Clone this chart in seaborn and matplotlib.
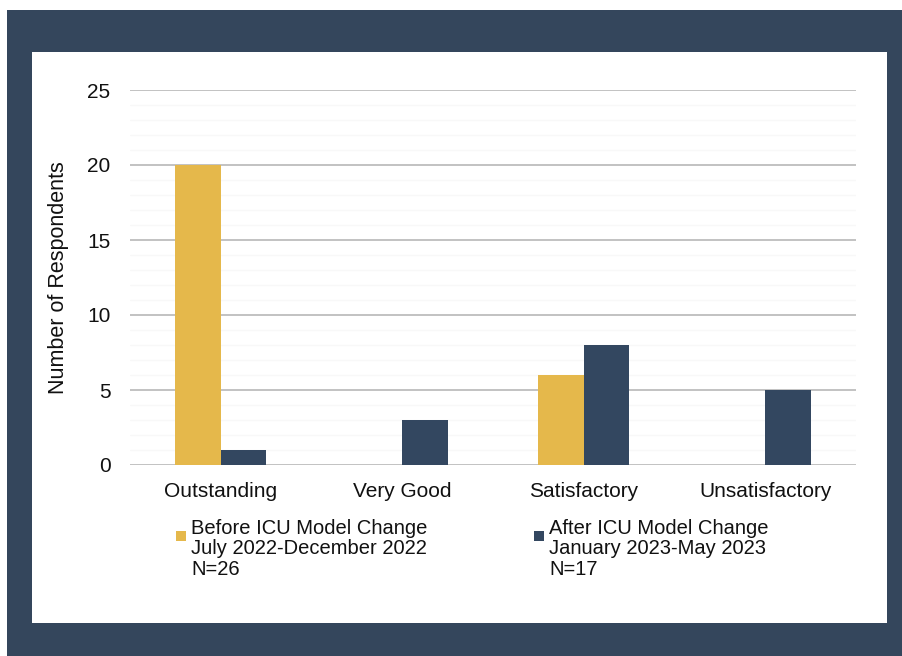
import matplotlib
matplotlib.use("Agg")
import matplotlib.pyplot as plt
import matplotlib.patches as mpatches
from matplotlib.legend_handler import HandlerPatch
from matplotlib.ticker import MultipleLocator
import seaborn as sns
import pandas as pd

categories = ["Outstanding", "Very Good", "Satisfactory", "Unsatisfactory"]
before_values = [20, 0, 6, 0]
after_values = [1, 3, 8, 5]
series_labels = ["Before ICU Model Change\nJuly 2022-December 2022\nN=26",
                 "After ICU Model Change\nJanuary 2023-May 2023\nN=17"]
y_ticks = [0, 5, 10, 15, 20, 25]

GOLD = "#E5B84B"
NAVY = "#334760"
FRAME = "#34465C"

sns.set_theme(style="white")
plt.rcParams["font.family"] = ["Liberation Sans", "DejaVu Sans"]

df = pd.DataFrame({
    "Category": categories * 2,
    "Value": before_values + after_values,
    "Series": [series_labels[0]] * 4 + [series_labels[1]] * 4,
})

W, H = 902, 656
fig = plt.figure(figsize=(W / 100, H / 100), dpi=100)
fig.patch.set_facecolor("white")
fig.add_artist(mpatches.Rectangle((7 / W, 0), 1 - 7 / W, (H - 10) / H,
                                  transform=fig.transFigure, facecolor=FRAME,
                                  edgecolor="none", zorder=0))
fig.add_artist(mpatches.Rectangle((32 / W, 1 - 623 / H), (887 - 32) / W, (623 - 52) / H,
                                  transform=fig.transFigure, facecolor="white",
                                  edgecolor="none", zorder=0))

ax = fig.add_axes([130 / W, 1 - 465 / H, 726 / W, (465 - 90) / H])
ax.set_facecolor("none")
sns.barplot(data=df, x="Category", y="Value", hue="Series", order=categories,
            hue_order=series_labels, palette=[GOLD, NAVY], width=0.5,
            saturation=1, legend=False, linewidth=0, edgecolor="none", ax=ax)

ax.set_ylim(0, 25)
ax.set_xlim(-0.5, 3.5)
ax.set_yticks(y_ticks)
ax.yaxis.set_minor_locator(MultipleLocator(1))
ax.set_axisbelow(True)
ax.grid(axis="y", which="major", color="#BDBDBD", linewidth=1.3)
ax.grid(axis="y", which="minor", color="#F8F8F8", linewidth=1.0)
for s in ax.spines.values():
    s.set_visible(False)
ax.tick_params(axis="both", which="both", length=0, labelsize=15, colors="#111111")
ax.tick_params(axis="y", pad=14)
ax.tick_params(axis="x", pad=12)
ax.set_xlabel("")
ax.set_ylabel("Number of Respondents", fontsize=15.5, color="#111111", labelpad=13)


def square_top(legend, orig_handle, xdescent, ydescent, width, height, fontsize):
    s = 0.5 * fontsize
    top = height - ydescent
    return mpatches.Rectangle((-xdescent, top - s - 0.2 * fontsize), s, s)


handles = [mpatches.Patch(facecolor=GOLD, edgecolor="none"),
           mpatches.Patch(facecolor=NAVY, edgecolor="none")]
leg = fig.legend(handles=handles, labels=series_labels, ncol=2,
                 loc="upper left", bbox_to_anchor=(176 / W, 1 - 519 / H),
                 frameon=False, fontsize=14.5, handlelength=0.5,
                 handleheight=3.2, handletextpad=0.25, columnspacing=5.3,
                 borderpad=0, borderaxespad=0,
                 handler_map={mpatches.Patch: HandlerPatch(patch_func=square_top)})
for t in leg.get_texts():
    t.set_linespacing(1.1)
    t.set_color("#111111")

fig.savefig("out.png", dpi=100, facecolor="white")
